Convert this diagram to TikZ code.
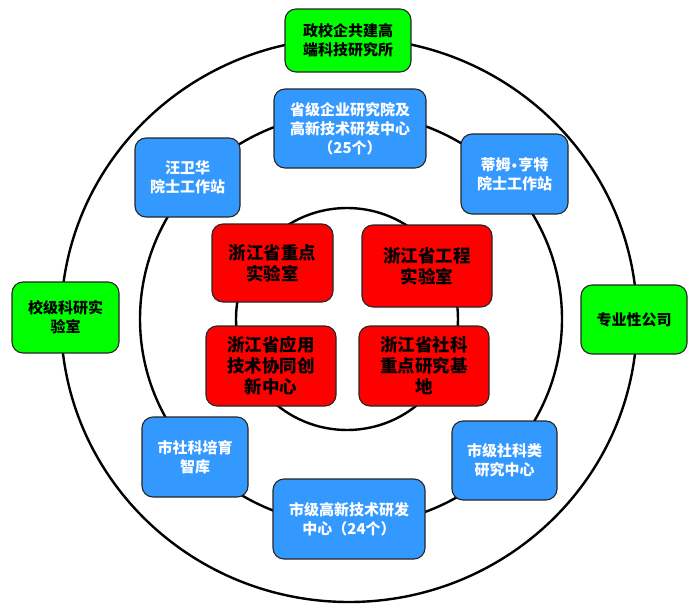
\documentclass[tikz,border=0pt]{standalone}
\usepackage{fontspec}
\newfontfamily\cjk{Noto Sans CJK SC}
\newfontfamily\dvs{DejaVu Sans}
\definecolor{gbox}{HTML}{00FF00}
\definecolor{bbox}{HTML}{3399FF}
\definecolor{rbox}{HTML}{FF0000}
\begin{document}
\begin{tikzpicture}[x=1pt,y=-1pt,
  ring/.style={draw=black, line width=2.4pt},
  cbox/.style={draw=black!85, line width=1.1pt, rounded corners=11pt, align=center, inner sep=0pt},
  greenbox/.style={cbox, fill=gbox, text=black, font=\cjk\bfseries\fontsize{15}{19}\selectfont},
  bluebox/.style={cbox, fill=bbox, text=white, font=\cjk\bfseries\fontsize{15}{19}\selectfont},
  redbox/.style={cbox, fill=rbox, text=black, font=\cjk\bfseries\fontsize{17.5}{21}\selectfont}]
\useasboundingbox (0,0) rectangle (699,613);
\fill[white] (0,0) rectangle (699,613);
% rings
\draw[ring] (349,320) ellipse [x radius=288pt, y radius=282pt];
\draw[ring] (351,319) ellipse [x radius=211pt, y radius=206pt];
\draw[ring] (347,319) circle [radius=111pt];
% outer ring boxes
\node[greenbox, minimum width=126pt, minimum height=63pt] (top) at (348,40.5) {政校企共建高\\端科技研究所};
\node[greenbox, minimum width=107pt, minimum height=71pt] (left) at (65.5,317.5) {校级科研实\\验室};
\node[greenbox, minimum width=106pt, minimum height=69pt] (right) at (634,319.5) {专业性公司};
% middle ring boxes
\node[bluebox, minimum width=152pt, minimum height=79pt] (sj) at (350,128.5) {省级企业研究院及\\高新技术研发中心\\（25个）};
\node[bluebox, minimum width=105pt, minimum height=79pt] (wwh) at (187.5,177.5) {汪卫华\\院士工作站};
\node[bluebox, minimum width=107pt, minimum height=80pt] (tmh) at (514.5,174) {蒂姆{\dvs\fontsize{12}{19}\selectfont •}亨特\\院士工作站};
\node[bluebox, minimum width=106pt, minimum height=80pt] (ssk) at (195,457) {市社科培育\\智库};
\node[bluebox, minimum width=152pt, minimum height=80pt] (sgx) at (349,519) {市级高新技术研发\\中心（24个）};
\node[bluebox, minimum width=105pt, minimum height=79pt] (sjsk) at (504.5,460.5) {市级社科类\\研究中心};
% inner boxes
\node[redbox, minimum width=121pt, minimum height=78pt] (r1) at (272.5,263) {浙江省重点\\实验室};
\node[redbox, minimum width=130pt, minimum height=82pt] (r2) at (427,266) {浙江省工程\\实验室};
\node[redbox, minimum width=130pt, minimum height=80pt] (r3) at (271,366) {浙江省应用\\技术协同创\\新中心};
\node[redbox, minimum width=130pt, minimum height=80pt] (r4) at (424,366) {浙江省社科\\重点研究基\\地};
\end{tikzpicture}
\end{document}
